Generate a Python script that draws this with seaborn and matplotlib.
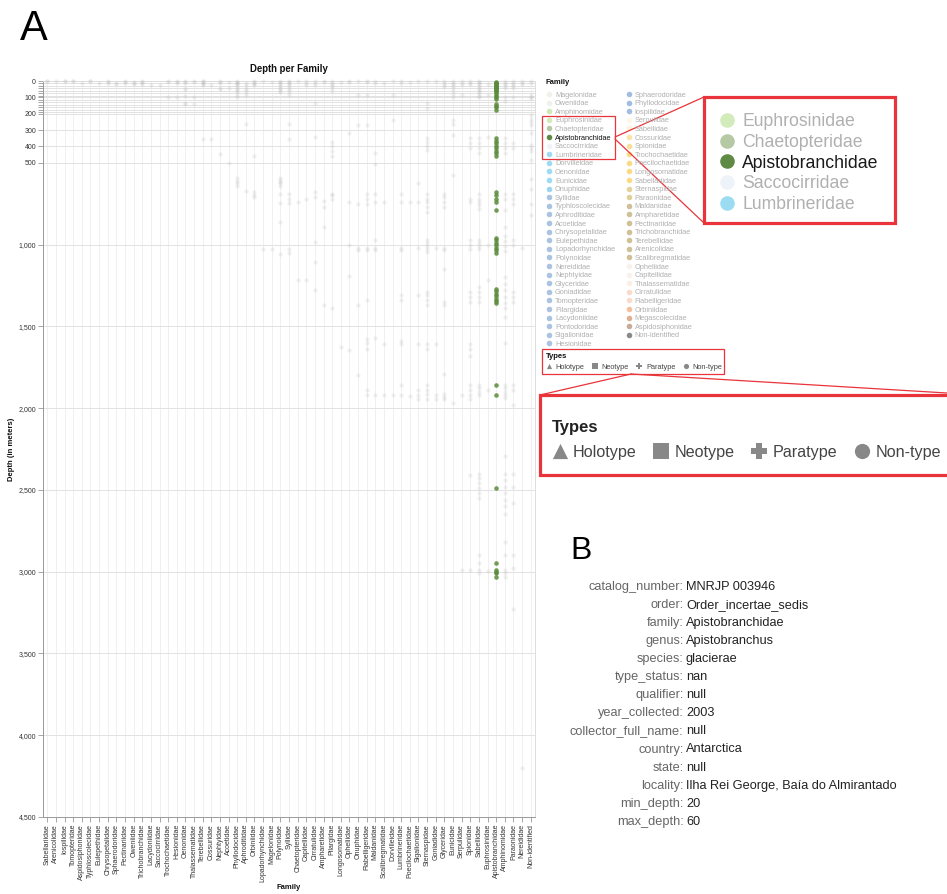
import matplotlib
matplotlib.use('Agg')
import matplotlib.pyplot as plt
import seaborn as sns
import pandas as pd
from matplotlib.patches import Rectangle

# ---------------- data ----------------
families = ['Sabellariidae', 'Arenicolidae', 'Iospilidae', 'Tomopteridae', 'Aspidosiphonidae',
            'Typhloscolecidae', 'Eulepethidae', 'Chrysopetalidae', 'Sphaerodoridae', 'Pectinariidae',
            'Oweniidae', 'Trichobranchidae', 'Lacydoniidae', 'Saccocirridae', 'Trochochaetidae',
            'Hesionidae', 'Oenonidae', 'Thalassematidae', 'Terebellidae', 'Cossuridae',
            'Nephtyidae', 'Acoetidae', 'Phyllodocidae', 'Aphroditidae', 'Orbiniidae',
            'Lopadorhynchidae', 'Magelonidae', 'Polynoidae', 'Syllidae', 'Chaetopteridae',
            'Capitellidae', 'Cirratulidae', 'Ampharetidae', 'Pilargidae', 'Longosomatidae',
            'Opheliidae', 'Onuphidae', 'Flabelligeridae', 'Maldanidae', 'Scalibregmatidae',
            'Dorvilleidae', 'Lumbrineridae', 'Poecilochaetidae', 'Sigalionidae', 'Sternaspidae',
            'Goniadidae', 'Glyceridae', 'Eunicidae', 'Serpulidae', 'Spionidae',
            'Sabellidae', 'Euphrosinidae', 'Apistobranchidae', 'Amphinomidae', 'Paraonidae',
            'Nereididae', 'Non-identified']

# depths (m) of the records of each family, same order as `families`
depths = [
    [0, 2], [3], [0, 2], [0, 1], [10], [0, 2], [10], [0, 5, 10], [15, 18], [0, 8, 12],
    [5, 15, 20], [0, 5, 12, 20], [25], [25], [0, 5, 100], [0, 5, 10, 95],
    [0, 5, 10, 45, 55, 90, 135, 140], [0, 5, 95, 140], [0, 3, 8, 12, 18, 25, 355], [25, 355],
    [0, 8, 15, 40, 50, 445], [5, 45, 500],
    [0, 5, 10, 15, 20, 30, 40, 50, 60, 70, 85, 95, 595, 610, 625, 640],
    [10, 25, 40, 55, 70, 85, 265, 670], [0, 5, 10, 18, 25, 460, 680, 700, 710], [0, 1030], [5, 1030],
    [0, 5, 10, 20, 30, 40, 50, 60, 70, 595, 605, 615, 625, 640, 690, 745, 865, 1055],
    [0, 5, 10, 20, 30, 40, 55, 70, 85, 265, 355, 690, 720, 745, 1030, 1050],
    [0, 740, 1215], [0, 10, 25, 720, 1215], [0, 10, 25, 135, 340, 680, 710, 985, 1105, 1275],
    [0, 5, 735, 770, 890, 1370], [0, 10, 20, 30, 45, 60, 370, 400, 430, 460, 690, 700, 720, 1390],
    [5, 1625], [0, 5, 320, 740, 1000, 1195, 1645], [0, 85, 270, 750, 1020, 1035, 1370, 1795],
    [0, 5, 85, 270, 690, 720, 750, 1020, 1035, 1340, 1580, 1600, 1640, 1890, 1920],
    [0, 15, 440, 505, 690, 740, 970, 1020, 1035, 1570, 1920], [15, 740, 1610, 1920], [0, 85, 240, 1920],
    [0, 15, 690, 740, 1020, 1035, 1310, 1340, 1590, 1610, 1860, 1920], [5, 740, 1925],
    [0, 625, 740, 1020, 1310, 1610, 1890, 1920, 1945],
    [0, 136, 167, 350, 370, 400, 420, 690, 720, 740, 770, 800, 970, 990, 1010, 1030, 1045,
     1290, 1310, 1340, 1370, 1610, 1640, 1860, 1890, 1915, 1945],
    [0, 1020, 1610, 1920, 1945],
    [0, 10, 25, 35, 690, 710, 740, 770, 1020, 1035, 1150, 1350, 1370, 1790, 1915, 1930, 1945],
    [0, 10, 20, 30, 45, 60, 80, 100, 240, 260, 330, 575, 1970], [0, 10, 25, 85, 1920, 2990],
    [0, 10, 20, 350, 380, 410, 720, 740, 970, 1000, 1030, 1290, 1320, 1350, 1610, 1640, 1680,
     1860, 1890, 1920, 1945, 2410, 2990],
    [0, 5, 10, 20, 30, 40, 50, 60, 70, 80, 90, 100, 350, 380, 410, 440, 690, 720, 740, 760, 780,
     970, 990, 1010, 1030, 1260, 1290, 1320, 1350, 1860, 1880, 1900, 1920, 2400, 2430, 2460,
     2490, 2520, 2550, 2900, 2950, 2990, 3010],
    [20, 85, 340, 1000, 1215, 1890, 2995],
    [5, 10, 15, 20, 25, 30, 35, 40, 45, 50, 55, 60, 70, 80, 90, 100, 110, 140, 150, 160, 175,
     350, 365, 380, 395, 410, 425, 440, 460, 680, 700, 720, 740, 790, 960, 975, 990, 1005, 1020,
     1035, 1050, 1270, 1285, 1300, 1315, 1330, 1345, 1360, 1860, 1920, 2490,
     2950, 2990, 3000, 3010, 3030],
    [0, 10, 20, 30, 40, 100, 120, 350, 380, 410, 440, 690, 720, 790, 890, 950, 980, 1010, 1040,
     1200, 1240, 1280, 1320, 1360, 1390, 1440, 1600, 1860, 1880, 1900, 1920, 1940, 2290, 2400,
     2440, 2480, 2520, 2560, 2600, 2650, 2820, 2900, 2990, 3010, 3030],
    [0, 10, 20, 30, 40, 100, 380, 410, 690, 720, 750, 970, 1000, 1290, 1320, 1350, 1860, 1890,
     1980, 2400, 2480, 2580, 2900, 2980, 3230],
    [0, 10, 20, 1020, 4200],
    [0, 10, 86, 100, 106, 210, 230, 250, 270, 320, 390, 410, 430, 480, 600, 660, 750, 820],
]
selected = 'Apistobranchidae'

legend_col1 = ['Magelonidae', 'Oweniidae', 'Amphinomidae', 'Euphrosinidae', 'Chaetopteridae',
               'Apistobranchidae', 'Saccocirridae', 'Lumbrineridae', 'Dorvilleidae', 'Oenonidae',
               'Eunicidae', 'Onuphidae', 'Syllidae', 'Typhloscolecidae', 'Aphroditidae', 'Acoetidae',
               'Chrysopetalidae', 'Eulepethidae', 'Lopadorhynchidae', 'Polynoidae', 'Nereididae',
               'Nephtyidae', 'Glyceridae', 'Goniadidae', 'Tomopteridae', 'Pilargidae', 'Lacydoniidae',
               'Pontodoridae', 'Sigalionidae', 'Hesionidae']
legend_col1_colors = ['#eef3ea', '#eef3ea', '#cfe8b5', '#d2ebbb', '#b5c9a5', '#5e8a44', '#eef3fa',
                      '#9bdcf3', '#9bdcf3', '#9bdcf3', '#9bdcf3', '#9bd6f0', '#a9c3e0', '#a9c3e0',
                      '#a9c3e0', '#a9c3e0', '#a9c3e0', '#a9c3e0', '#a9c3e0', '#a9c3e0', '#a9c3e0',
                      '#a9c3e0', '#a9c3e0', '#a9c3e0', '#a9c3e0', '#a9c3e0', '#a9c3e0', '#a9c3e0',
                      '#a9c3e0', '#a9c3e0']
legend_col2 = ['Sphaerodoridae', 'Phyllodocidae', 'Iospilidae', 'Serpulidae', 'Sabellidae',
               'Cossuridae', 'Spionidae', 'Trochochaetidae', 'Poecilochaetidae', 'Longosomatidae',
               'Sabellariidae', 'Sternaspidae', 'Paraonidae', 'Maldanidae', 'Ampharetidae',
               'Pectinariidae', 'Trichobranchidae', 'Terebellidae', 'Arenicolidae', 'Scalibregmatidae',
               'Opheliidae', 'Capitellidae', 'Thalassematidae', 'Cirratulidae', 'Flabelligeridae',
               'Orbiniidae', 'Megascolecidae', 'Aspidosiphonidae', 'Non-identified']
legend_col2_colors = ['#a3bde0', '#a3bde0', '#a3bde0', '#fdf8e4', '#fdf3d8', '#fbe3a8', '#fbdf98',
                      '#f8dc85', '#f8dc85', '#f8dc85', '#f8dc85', '#e5d29a', '#dfcf99', '#cfc095',
                      '#cfc095', '#cfc095', '#cfc095', '#cfc095', '#cfc095', '#cfc095', '#fbf1ec',
                      '#fbf1ec', '#fbeee6', '#f8dcc8', '#f8dcc8', '#f3c09a', '#e0b090', '#c8ab98',
                      '#8a8a8a']
zoom_entries = ['Euphrosinidae', 'Chaetopteridae', 'Apistobranchidae', 'Saccocirridae', 'Lumbrineridae']

type_labels = ['Holotype', 'Neotype', 'Paratype', 'Non-type']
type_markers = ['^', 's', 'P', 'o']

record_keys = ['catalog_number', 'order', 'family', 'genus', 'species', 'type_status', 'qualifier',
               'year_collected', 'collector_full_name', 'country', 'state', 'locality',
               'min_depth', 'max_depth']
record_values = ['MNRJP 003946', 'Order_incertae_sedis', 'Apistobranchidae', 'Apistobranchus',
                 'glacierae', 'nan', 'null', '2003', 'null', 'Antarctica', 'null',
                 'Ilha Rei George, Baía do Almirantado', '20', '60']

y_label_ticks = [0, 100, 200, 300, 400, 500, 1000, 1500, 2000, 2500, 3000, 3500, 4000, 4500]
y_grid_ticks = [0, 15, 30, 45, 60, 75, 90, 100, 115, 130, 145, 160, 175, 190, 200, 300, 400, 500,
                1000, 1500, 2000, 2500, 3000, 3500, 4000, 4500]

# ---------------- figure ----------------
sns.set_theme(style='white')
plt.rcParams['font.family'] = ['Liberation Sans', 'DejaVu Sans']

W, H = 947, 894
fig = plt.figure(figsize=(W / 100, H / 100), dpi=100)
ax = fig.add_axes([43 / W, 1 - 817 / H, 492 / W, 736 / H])

rows = [(f, d) for f, ds in zip(families, depths) for d in ds]
df = pd.DataFrame(rows, columns=['family', 'depth'])

sns.stripplot(data=df[df['family'] != selected], x='family', y='depth', order=families,
              jitter=False, color='#bcbcbc', alpha=0.22, size=3.0, linewidth=0, ax=ax, zorder=3)
sns.stripplot(data=df[df['family'] == selected], x='family', y='depth', order=families,
              jitter=False, color='#5a8b3c', alpha=0.85, size=3.3, linewidth=0, ax=ax, zorder=4)
for c in ax.collections:
    c.set_clip_on(False)

ax.set_xlim(-0.5, len(families) - 0.5)
ax.set_ylim(4500, 0)
ax.set_yticks(y_grid_ticks)
ax.set_yticklabels([f'{v:,}' if v in y_label_ticks else '' for v in y_grid_ticks])
ax.set_xticks(range(len(families)))
ax.set_xticklabels(families, rotation=90)
ax.tick_params(axis='both', labelsize=5, labelcolor='#333333', color='#999999',
               length=3.5, width=0.6, pad=1.5, bottom=True, left=True)
ax.yaxis.grid(True, color='#e2e2e2', lw=0.7)
ax.xaxis.grid(True, color='#f0f0f0', lw=0.7)
ax.set_axisbelow(True)
for s in ['left', 'bottom']:
    ax.spines[s].set_color('#999999')
    ax.spines[s].set_linewidth(0.7)
for s in ['top', 'right']:
    ax.spines[s].set_color('#dddddd')
    ax.spines[s].set_linewidth(0.7)

ax.set_title('Depth per Family', fontsize=6.9, fontweight='bold', pad=6.5, color='#111111')
ax.set_xlabel('Family', fontsize=5.5, fontweight='bold', color='#111111')
ax.xaxis.set_label_coords(0.5, -(884 - 817) / 736)
ax.set_ylabel('Depth (in meters)', fontsize=5.5, fontweight='bold', color='#111111')
ax.yaxis.set_label_coords((15.5 - 43) / 492, 0.5)

# ---------------- overlay in pixel coordinates ----------------
ov = fig.add_axes([0, 0, 1, 1], zorder=10)
ov.set_xlim(0, W)
ov.set_ylim(H, 0)
ov.axis('off')

ov.text(20, 29, 'A', fontsize=30, va='center', ha='left', color='black')
ov.text(570, 551, 'B', fontsize=23, va='center', ha='left', color='black')

# family legend
ov.text(545, 84.5, 'Family', fontsize=5.5, fontweight='bold', va='baseline', ha='left', color='#111111')
row_h = 8.6
for col_x, names, cols in [(549, legend_col1, legend_col1_colors), (628.5, legend_col2, legend_col2_colors)]:
    for i, (n, c) in enumerate(zip(names, cols)):
        y = 94 + i * row_h
        ov.scatter([col_x], [y], s=16, color=c, linewidths=0)
        ov.text(col_x + 6, y + 2.6, n, fontsize=5.3, va='baseline', ha='left',
                color='#111111' if n == selected else '#b0b0b0')

# types legend
ov.text(545.5, 357.5, 'Types', fontsize=5.5, fontweight='bold', va='baseline', ha='left', color='#111111')
for mx, tx, m, lab in zip([549, 595, 639, 686], [555, 601, 646, 692], type_markers, type_labels):
    ov.scatter([mx], [366], s=14, marker=m, color='#888888', linewidths=0)
    ov.text(tx, 368.6, lab, fontsize=5.3, va='baseline', ha='left', color='#444444')

red = '#e8343a'
# zoom of family legend
ov.add_patch(Rectangle((542, 116), 73, 43, fill=False, ec=red, lw=0.9))
ov.plot([615, 704], [137, 97], color=red, lw=0.9)
ov.plot([615, 704], [139, 223], color=red, lw=0.9)
ov.add_patch(Rectangle((704, 97), 191, 126, fill=True, fc='white', ec=red, lw=2.3))
for i, n in enumerate(zoom_entries):
    y = 120 + i * 20.7
    c = legend_col1_colors[legend_col1.index(n)]
    ov.scatter([727], [y], s=110, color=c, linewidths=0)
    ov.text(742, y + 6.3, n, fontsize=12.7, va='baseline', ha='left',
            color='#1a1a1a' if n == selected else '#b0b0b0')

# zoom of types legend
ov.add_patch(Rectangle((542, 349), 182, 25, fill=False, ec=red, lw=0.9))
ov.plot([631, 540], [374, 395], color=red, lw=0.9)
ov.plot([631, 947], [374, 393], color=red, lw=0.9)
ov.add_patch(Rectangle((540, 395), 430, 80, fill=True, fc='white', ec=red, lw=2.3))
ov.text(552, 432, 'Types', fontsize=12, fontweight='bold', va='baseline', ha='left', color='#222222')
for mx, tx, m, lab in zip([560, 661, 759, 862], [573, 675, 773, 876], type_markers, type_labels):
    ov.scatter([mx], [451], s=120, marker=m, color='#888888', linewidths=0)
    ov.text(tx, 456.7, lab, fontsize=11.6, va='baseline', ha='left', color='#444444')

# panel B record
for i, (k, v) in enumerate(zip(record_keys, record_values)):
    y = 585 + i * 18.1 + 4.6
    ov.text(683.5, y, k + ':', fontsize=9.2, va='baseline', ha='right', color='#666666')
    ov.text(686, y, v, fontsize=9.2, va='baseline', ha='left', color='#222222')

fig.savefig('out.png', dpi=100)
